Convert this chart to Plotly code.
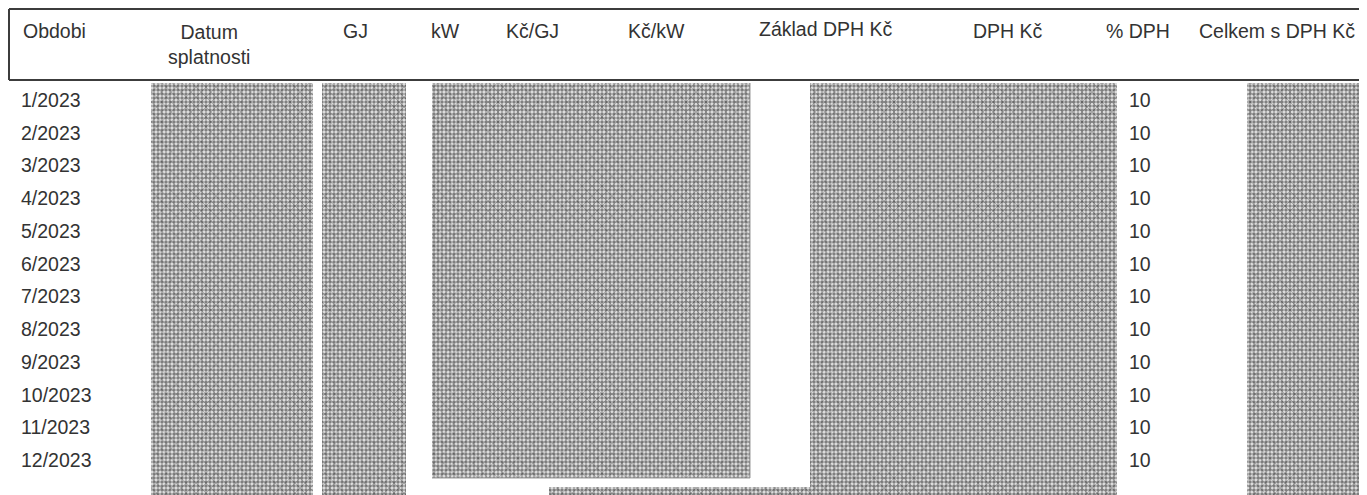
import plotly.graph_objects as go

# ---------------- data ----------------
periods = ["1/2023", "2/2023", "3/2023", "4/2023", "5/2023", "6/2023",
           "7/2023", "8/2023", "9/2023", "10/2023", "11/2023", "12/2023"]
dph_pct = [10, 10, 10, 10, 10, 10, 10, 10, 10, 10, 10, 10]
headers = ["Obdobi", "Datum<br>splatnosti", "GJ", "kW", "Kč/GJ", "Kč/kW",
           "Základ DPH Kč", "DPH Kč", "% DPH", "Celkem s DPH Kč"]

# ---------------- layout helpers ----------------
W, H = 1367, 495
PAGE_OFF = 8                            # default body margin of the html page
ROW0_PX, ROW_H = 102.0, 32.75          # pixel centre of first row, row pitch


def r(px):
    """page pixel y -> row-index axis units"""
    return (px - ROW0_PX) / ROW_H


FONT = "Liberation Sans, Arial, sans-serif"
TXT = "#333333"
FS = 19.5

fig = go.Figure()

# redacted (noise) blocks: (x0, x1, y0_px, y1_px)
blocks = [
    (151, 313, 83, 505),
    (322, 406, 83, 505),
    (432, 750, 83, 478),
    (810, 1117, 83, 505),
    (1247, 1380, 83, 505),
    (549, 828, 487, 505),
]
for (x0, x1, y0, y1) in blocks:
    xs = [x0, x1, x1, x0, x0]
    ys = [r(y0), r(y0), r(y1), r(y1), r(y0)]
    fig.add_trace(go.Scatter(
        x=xs, y=ys, mode="lines", fill="toself",
        line=dict(width=0, color="rgba(0,0,0,0)"),
        fillpattern=dict(shape=".", fgcolor="#1a1a1a", bgcolor="#e6e6e6",
                         size=4, solidity=0.6),
        hoverinfo="skip", showlegend=False))
    fig.add_trace(go.Scatter(
        x=xs, y=ys, mode="lines", fill="toself",
        line=dict(width=0, color="rgba(0,0,0,0)"),
        fillpattern=dict(shape="x", fgcolor="rgba(30,30,30,0.6)",
                         bgcolor="rgba(0,0,0,0)", size=7, solidity=0.25),
        hoverinfo="skip", showlegend=False))

# thin border of the kW / Kč block (right + bottom)
fig.add_trace(go.Scatter(x=[750, 750, 432], y=[r(83), r(478), r(478)],
                         mode="lines", line=dict(color="#9a9a9a", width=1),
                         hoverinfo="skip", showlegend=False))

# period column
fig.add_trace(go.Scatter(
    x=[21] * len(periods), y=list(range(len(periods))), text=periods,
    mode="text", textposition="middle right",
    textfont=dict(family=FONT, size=FS, color=TXT),
    hoverinfo="skip", showlegend=False))

# % DPH column
fig.add_trace(go.Scatter(
    x=[1129] * len(dph_pct), y=list(range(len(dph_pct))),
    text=[str(v) for v in dph_pct],
    mode="text", textposition="middle right",
    textfont=dict(family=FONT, size=FS, color=TXT),
    hoverinfo="skip", showlegend=False))

# header texts
hdr_pos = [(21, 31, "left"), (209, 44, "center"), (355, 31, "center"),
           (445, 31, "center"), (532, 31, "center"), (656, 31, "center"),
           (826, 29, "center"), (1008, 31, "center"), (1138, 31, "center"),
           (1277, 31, "center")]
for txt, (x, y, anc) in zip(headers, hdr_pos):
    fig.add_annotation(x=x, y=r(y), text=txt, showarrow=False, xanchor=anc,
                       yanchor="middle", align="center",
                       font=dict(family=FONT, size=FS, color=TXT))

# header frame
line = dict(color="#3c3c3c", width=2)
fig.add_shape(type="line", x0=9, x1=1380, y0=r(9), y1=r(9), line=line)
fig.add_shape(type="line", x0=9, x1=1380, y0=r(80), y1=r(80), line=line)
fig.add_shape(type="line", x0=9, x1=9, y0=r(9), y1=r(80), line=line)

fig.update_layout(
    width=W, height=H, margin=dict(l=0, r=0, t=0, b=0),
    paper_bgcolor="white", plot_bgcolor="white",
    xaxis=dict(range=[PAGE_OFF, W + PAGE_OFF], visible=False, fixedrange=True),
    yaxis=dict(range=[r(H + PAGE_OFF), r(PAGE_OFF)], visible=False,
               fixedrange=True),
)

fig.write_html("out.html")
